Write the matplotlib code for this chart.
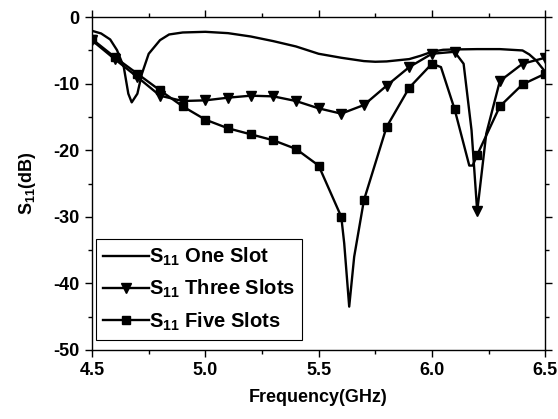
import matplotlib
matplotlib.use("Agg")
import matplotlib.pyplot as plt
from matplotlib.ticker import MultipleLocator

plt.rcParams['font.family'] = ['Liberation Sans', 'DejaVu Sans']
plt.rcParams['font.weight'] = 'bold'
plt.rcParams['axes.unicode_minus'] = False
plt.rcParams['mathtext.fontset'] = 'custom'
plt.rcParams['mathtext.rm'] = 'Liberation Sans:bold'
plt.rcParams['mathtext.bf'] = 'Liberation Sans:bold'

# one slot: measured trace, no markers
f_one = [4.50, 4.54, 4.58, 4.61, 4.64, 4.66, 4.675, 4.70, 4.72, 4.75, 4.80, 4.84,
         4.90, 5.00, 5.10, 5.20, 5.30, 5.40, 5.50, 5.60, 5.70, 5.75, 5.80, 5.90,
         5.95, 6.00, 6.05, 6.10, 6.20, 6.30, 6.40, 6.43, 6.46, 6.50]
s_one = [-2.05, -2.45, -3.35, -4.95, -7.5, -11.5, -12.8, -11.5, -8.5, -5.5, -3.45, -2.6,
         -2.3, -2.2, -2.4, -2.9, -3.6, -4.4, -5.5, -6.1, -6.6, -6.7, -6.65, -6.3,
         -5.8, -5.2, -4.9, -4.85, -4.8, -4.8, -5.0, -5.6, -6.5, -8.2]

# three slots
f_three = [4.5, 4.6, 4.7, 4.8, 4.9, 5.0, 5.1, 5.2, 5.3, 5.4, 5.5, 5.6, 5.7, 5.8, 5.9,
           6.0, 6.1, 6.14, 6.175, 6.2, 6.24, 6.3, 6.4, 6.5]
s_three = [-3.5, -6.3, -9.0, -11.8, -12.6, -12.5, -12.1, -11.8, -11.9, -12.6, -13.7,
           -14.5, -13.2, -10.3, -7.5, -5.5, -5.2, -7.0, -17.0, -29.2, -17.5, -9.6,
           -7.0, -6.1]
mk_three = [0, 1, 2, 3, 4, 5, 6, 7, 8, 9, 10, 11, 12, 13, 14, 15, 16, 19, 21, 22, 23]

# five slots
f_five = [4.5, 4.6, 4.7, 4.8, 4.9, 5.0, 5.1, 5.2, 5.3, 5.4, 5.5, 5.6, 5.613, 5.635,
          5.657, 5.7, 5.8, 5.9, 6.0, 6.04, 6.1, 6.165, 6.18, 6.2, 6.3, 6.4, 6.5]
s_five = [-3.3, -6.0, -8.5, -11.0, -13.4, -15.4, -16.7, -17.6, -18.5, -19.8, -22.3,
          -30.0, -34.0, -43.5, -36.0, -27.5, -16.5, -10.6, -7.0, -7.5, -13.8, -22.3,
          -22.3, -20.7, -13.4, -10.1, -8.5]
mk_five = [0, 1, 2, 3, 4, 5, 6, 7, 8, 9, 10, 11, 15, 16, 17, 18, 20, 23, 24, 25, 26]

fig = plt.figure(figsize=(5.58, 4.19), dpi=100)
ax = fig.add_axes([0.165, 0.165, 0.812, 0.794])

lw = 1.7
ax.plot(f_one, s_one, color='black', lw=lw, label=r'$\mathregular{S_{11}}$ One Slot')
ax.plot(f_three, s_three, color='black', lw=lw, marker='v', ms=7,
        markevery=mk_three, label=r'$\mathregular{S_{11}}$ Three Slots')
ax.plot(f_five, s_five, color='black', lw=lw, marker='s', ms=6,
        markevery=mk_five, label=r'$\mathregular{S_{11}}$ Five Slots')

ax.set_xlim(4.5, 6.5)
ax.set_ylim(-50, 0)
ax.xaxis.set_major_locator(MultipleLocator(0.5))
ax.xaxis.set_minor_locator(MultipleLocator(0.25))
ax.yaxis.set_major_locator(MultipleLocator(10))
ax.yaxis.set_minor_locator(MultipleLocator(5))
ax.xaxis.set_major_formatter(plt.FormatStrFormatter('%.1f'))

ax.tick_params(which='both', direction='out', top=True, right=True,
               labelsize=13, width=1.0)
ax.tick_params(which='major', length=5, pad=4)
ax.tick_params(which='minor', length=3)
for sp in ax.spines.values():
    sp.set_linewidth(1.0)

ax.set_xlabel('Frequency(GHz)', fontsize=13, fontweight='bold', labelpad=7)
ax.set_ylabel(r'$\mathregular{S_{11}}$(dB)', fontsize=13, fontweight='bold', labelpad=11)

leg = ax.legend(loc='lower left', bbox_to_anchor=(0.008, 0.03), fontsize=14.5,
                numpoints=1, handlelength=2.3, handletextpad=0.0,
                labelspacing=0.5, borderpad=0.35, borderaxespad=0.0,
                fancybox=False, framealpha=1, edgecolor='black')
leg.get_frame().set_linewidth(0.8)

fig.savefig('out.png', dpi=100)
